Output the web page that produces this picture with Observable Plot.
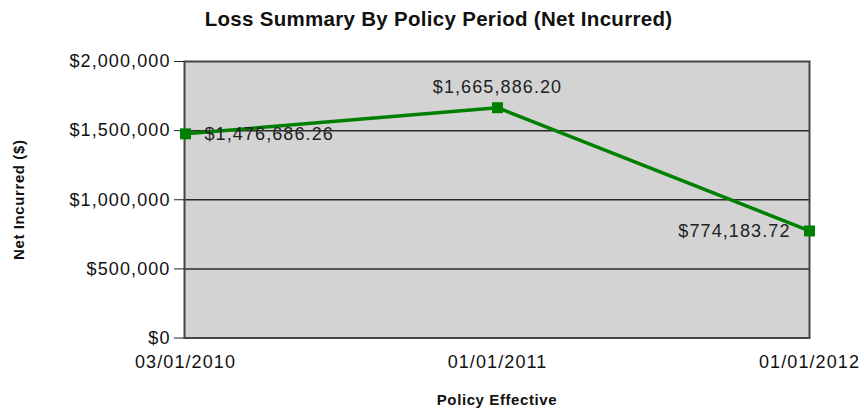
<!DOCTYPE html>
<html>
<head>
<meta charset="utf-8">
<script src="https://cdn.jsdelivr.net/npm/d3@7"></script>
<script src="https://cdn.jsdelivr.net/npm/@observablehq/plot@0.6"></script>
<style>
  body { margin: 0; background: #fff; font-family: "Liberation Sans", Arial, sans-serif; }
  #title { width: 864px; height: 40px; line-height: 38px; text-align: center; padding-left: 13px; box-sizing: border-box;
           font-weight: bold; font-size: 20.5px; letter-spacing: 0.3px; color: #111; }
  #chart svg [aria-label="x-axis label"] text,
  #chart svg [aria-label="y-axis label"] text { font-weight: bold; font-size: 15px; letter-spacing: 0.6px; fill: #111; }
</style>
</head>
<body>
<div id="title">Loss Summary By Policy Period (Net Incurred)</div>
<div id="chart"></div>
<script>
const periods = ["03/01/2010", "01/01/2011", "01/01/2012"];
const netIncurred = [1476686.26, 1665886.20, 774183.72];
const yTicks = [0, 500000, 1000000, 1500000, 2000000];
const gridValues = [500000, 1000000, 1500000];

const data = periods.map((p, i) => ({period: p, value: netIncurred[i]}));
const money = v => "$" + d3.format(",.2f")(v);

const chart = Plot.plot({
  width: 864,
  height: 372,
  marginTop: 21,
  marginBottom: 74.5,
  marginLeft: 184,
  marginRight: 55,
  style: {fontFamily: "Liberation Sans, Arial, sans-serif", fontSize: "18px", letterSpacing: "1.1px", color: "#111", background: "#fff"},
  x: {type: "point", domain: periods, padding: 0},
  y: {domain: [0, 2000000]},
  marks: [
    Plot.frame({fill: "#d3d3d3"}),
    Plot.ruleY(gridValues, {stroke: "#2a2a2a", strokeWidth: 1.5}),
    Plot.frame({stroke: "#444", strokeWidth: 2}),
    Plot.axisY({ticks: yTicks, tickFormat: d3.format("$,"), tickSize: 10, tickPadding: 4, fontSize: 18,
                label: "Net Incurred ($)", labelAnchor: "center", labelArrow: "none", labelOffset: 171, stroke: "#222"}),
    Plot.axisX({tickSize: 0, tickPadding: 17, fontSize: 18,
                label: "Policy Effective", labelAnchor: "center", labelArrow: "none", labelOffset: 67}),
    Plot.line(data, {x: "period", y: "value", stroke: "#008000", strokeWidth: 3.5}),
    Plot.dot(data, {x: "period", y: "value", symbol: "square", r: 6.2, fill: "#008000", stroke: "none"}),
    Plot.text(data.slice(0, 1), {x: "period", y: "value", text: d => money(d.value), textAnchor: "start", dx: 19, lineAnchor: "middle", fontSize: 18, fill: "#222"}),
    Plot.text(data.slice(1, 2), {x: "period", y: "value", text: d => money(d.value), textAnchor: "middle", dy: -20, lineAnchor: "middle", fontSize: 18, fill: "#222"}),
    Plot.text(data.slice(2, 3), {x: "period", y: "value", text: d => money(d.value), textAnchor: "end", dx: -19, lineAnchor: "middle", fontSize: 18, fill: "#222"})
  ]
});
document.getElementById("chart").appendChild(chart);
</script>
</body>
</html>
